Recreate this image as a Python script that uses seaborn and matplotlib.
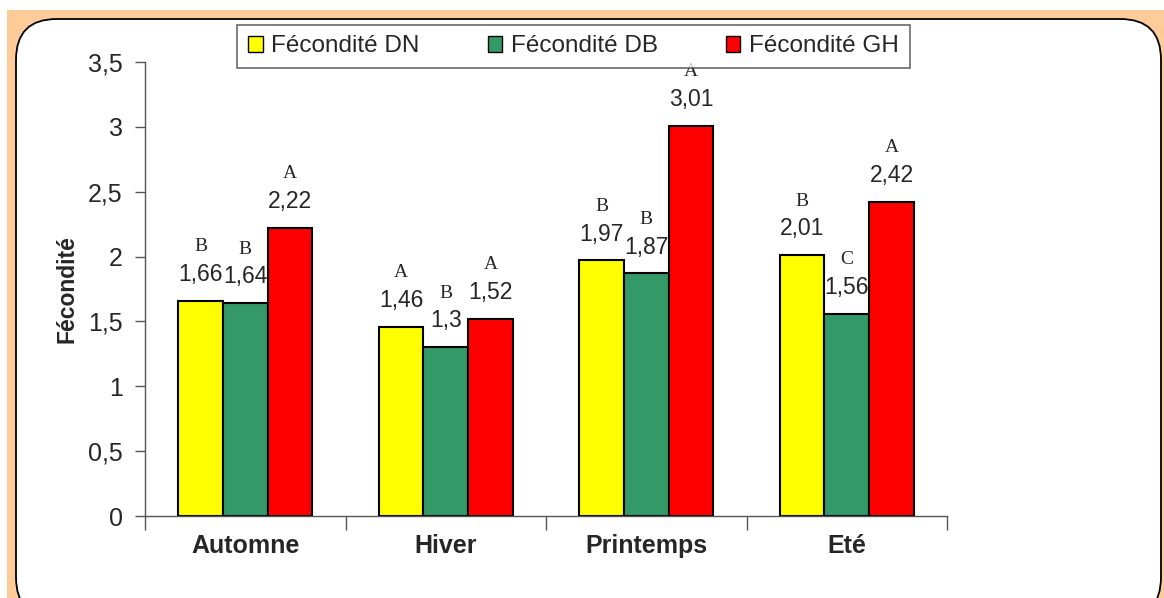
import matplotlib
matplotlib.use("Agg")
import matplotlib.pyplot as plt
from matplotlib.patches import Rectangle, FancyBboxPatch, Patch
from matplotlib.ticker import FixedLocator, FuncFormatter
import seaborn as sns
import pandas as pd

# Fécondité par saison et par race
seasons = ["Automne", "Hiver", "Printemps", "Eté"]
series_names = ["Fécondité DN", "Fécondité DB", "Fécondité GH"]
fec_dn = [1.66, 1.46, 1.97, 2.01]
fec_db = [1.64, 1.30, 1.87, 1.56]
fec_gh = [2.22, 1.52, 3.01, 2.42]
# groupes statistiques (lettres de significativité)
grp_dn = ["B", "A", "B", "B"]
grp_db = ["B", "B", "B", "C"]
grp_gh = ["A", "A", "A", "A"]
y_ticks = [0, 0.5, 1, 1.5, 2, 2.5, 3, 3.5]

colors = ["#FFFF00", "#339966", "#FF0000"]

sns.set_theme(style="white")
plt.rcParams["font.family"] = ["Liberation Sans", "DejaVu Sans"]

df = pd.DataFrame({
    "Saison": seasons * 3,
    "Série": [s for s in series_names for _ in seasons],
    "Fécondité": fec_dn + fec_db + fec_gh,
})

W, H = 1164, 598
fig = plt.figure(figsize=(W / 100, H / 100), dpi=100)
fig.patch.set_facecolor("white")

# fond orangé et cadre arrondi
fig.patches.append(Rectangle((7 / W, 0), 1 - 7 / W, 1 - 10 / H,
                             transform=fig.transFigure, facecolor="#FFCC99",
                             edgecolor="none", zorder=-3))
fig.patches.append(FancyBboxPatch((16 / W, -20 / H), (1161 - 16) / W, (579 + 20) / H,
                                  boxstyle="round,pad=0,rounding_size=0.035",
                                  mutation_aspect=W / H,
                                  transform=fig.transFigure, facecolor="white",
                                  edgecolor="black", linewidth=1.3, zorder=-2))

ax = fig.add_axes([145 / W, 1 - 516 / H, (947 - 145) / W, (516 - 62) / H])
ax.set_facecolor("none")

sns.barplot(data=df, x="Saison", y="Fécondité", hue="Série", order=seasons,
            hue_order=series_names, palette=colors, width=0.67, gap=0,
            edgecolor="black", linewidth=1.5, saturation=1, legend=False, ax=ax)

ax.set_xlim(-0.5, 3.5)
ax.set_ylim(0, 3.5)
ax.yaxis.set_major_locator(FixedLocator(y_ticks))
ax.yaxis.set_major_formatter(FuncFormatter(lambda v, p: f"{v:g}".replace(".", ",")))
ax.tick_params(axis="y", which="major", direction="out", length=7, width=1,
               color="#555555", labelsize=18, pad=9, left=True)

ax.set_xticks(range(len(seasons)))
ax.set_xticklabels(seasons, fontsize=18, fontweight="bold")
ax.tick_params(axis="x", which="major", length=0, pad=13)
ax.set_xticks([i - 0.5 for i in range(len(seasons) + 1)], minor=True)
ax.tick_params(axis="x", which="minor", direction="out", length=10, width=1,
               color="#555555", bottom=True)
ax.set_xlabel("")
ax.set_ylabel("Fécondité", fontsize=16.5, fontweight="bold")
ax.yaxis.label.set_va("center")
ax.yaxis.set_label_coords((67 - 145) / (947 - 145), 0.5)

for side in ["top", "right"]:
    ax.spines[side].set_visible(False)
for side in ["left", "bottom"]:
    ax.spines[side].set_visible(True)
    ax.spines[side].set_color("#555555")
    ax.spines[side].set_linewidth(1)

# valeurs et lettres au-dessus des barres
values = [fec_dn, fec_db, fec_gh]
groups = [grp_dn, grp_db, grp_gh]
for container, vals, grps in zip(ax.containers, values, groups):
    for bar, v, g in zip(container, vals, grps):
        xc = bar.get_x() + bar.get_width() / 2
        ax.annotate(f"{v:g}".replace(".", ","), (xc, v), xytext=(0, 19),
                    textcoords="offset points", ha="center", va="center",
                    fontsize=16.5, annotation_clip=False)
        ax.annotate(g, (xc, v), xytext=(0, 39), textcoords="offset points",
                    ha="center", va="center", fontsize=14,
                    family=["Liberation Serif", "DejaVu Serif"], annotation_clip=False)

handles = [Patch(facecolor=c, edgecolor="black", linewidth=1) for c in colors]
leg = fig.legend(handles, series_names, loc="center",
                 bbox_to_anchor=(573.5 / W, 1 - 46.5 / H), ncol=3, fontsize=17.5,
                 frameon=True, fancybox=False, edgecolor="#444444",
                 handlelength=0.6, handleheight=0.6, handletextpad=0.35,
                 columnspacing=2.8, borderpad=0.45)
leg.get_frame().set_linewidth(1.2)

fig.savefig("out.png", dpi=100)
